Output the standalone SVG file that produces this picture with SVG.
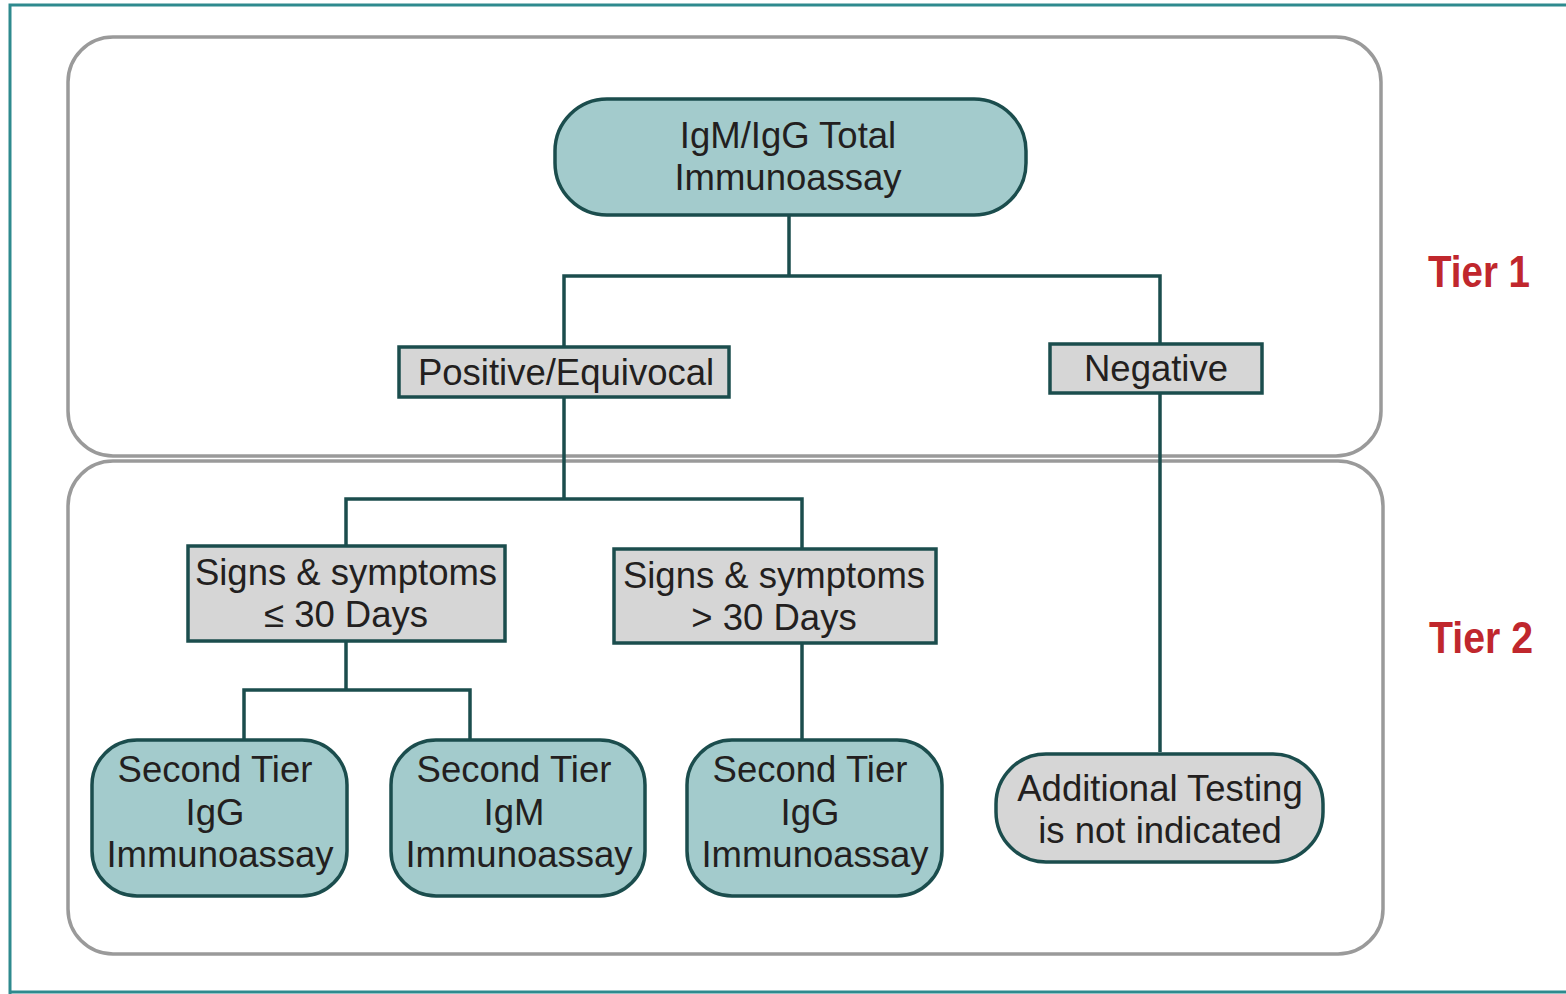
<svg xmlns="http://www.w3.org/2000/svg" width="1566" height="994" viewBox="0 0 1566 994">
<style>
.frame{fill:none;stroke:#2e8a8e;stroke-width:3}
.tier{fill:none;stroke:#9a9a9a;stroke-width:3.5}
.teal{fill:#a3cbcc;stroke:#1b4d4d;stroke-width:3.5}
.grey{fill:#d6d6d6;stroke:#1b4d4d;stroke-width:3.5}
.t{font-family:"Liberation Sans",Arial,sans-serif;font-size:36.5px;fill:#231f20;text-anchor:middle}
.tl{font-family:"Liberation Sans",Arial,sans-serif;font-size:44px;font-weight:bold;fill:#c0272d;text-anchor:middle}
.c{fill:none;stroke:#1b4d4d;stroke-width:3.5}
</style>
<rect width="1566" height="994" fill="#ffffff"/>
<path class="frame" d="M10,994 V5 H1566 M10,992 H1566"/>
<rect class="tier" x="68" y="37" width="1313" height="419" rx="45"/>
<rect class="tier" x="68" y="461" width="1315" height="493" rx="45"/>
<text class="tl" x="1479" y="287" textLength="102" lengthAdjust="spacingAndGlyphs">Tier 1</text>
<text class="tl" x="1481" y="653" textLength="104" lengthAdjust="spacingAndGlyphs">Tier 2</text>
<g id="connectors">
<path class="c" d="M789,215 V276 M564,347 V276 H1160 V344"/>
<path class="c" d="M564,397 V499 M346,546 V499 H802 V549"/>
<path class="c" d="M346,641 V690 M244,740 V690 H470 V740"/>
<path class="c" d="M802,643 V740"/>
<path class="c" d="M1160,393 V752"/>
</g>
<g id="n-total"><rect class="teal" x="555" y="99" width="471" height="116" rx="52"/>
<text class="t" x="788" y="148">IgM/IgG Total</text><text class="t" x="788" y="190">Immunoassay</text></g>
<g id="n-pos"><rect class="grey" x="399" y="347" width="330" height="50"/>
<text class="t" x="566" y="385">Positive/Equivocal</text></g>
<g id="n-neg"><rect class="grey" x="1050" y="344" width="212" height="49"/>
<text class="t" x="1156" y="381">Negative</text></g>
<g id="n-le30"><rect class="grey" x="188" y="546" width="317" height="95"/>
<text class="t" x="346" y="585">Signs &amp; symptoms</text><text class="t" x="346" y="627">≤ 30 Days</text></g>
<g id="n-gt30"><rect class="grey" x="614" y="549" width="322" height="94"/>
<text class="t" x="774" y="588">Signs &amp; symptoms</text><text class="t" x="774" y="630">&gt; 30 Days</text></g>
<g id="n-igg1"><rect class="teal" x="92" y="740" width="255" height="156" rx="45"/>
<text class="t" x="215" y="782">Second Tier</text><text class="t" x="215" y="825">IgG</text><text class="t" x="220" y="867">Immunoassay</text></g>
<g id="n-igm"><rect class="teal" x="391" y="740" width="254" height="156" rx="45"/>
<text class="t" x="514" y="782">Second Tier</text><text class="t" x="514" y="825">IgM</text><text class="t" x="519" y="867">Immunoassay</text></g>
<g id="n-igg2"><rect class="teal" x="687" y="740" width="255" height="156" rx="45"/>
<text class="t" x="810" y="782">Second Tier</text><text class="t" x="810" y="825">IgG</text><text class="t" x="815" y="867">Immunoassay</text></g>
<g id="n-add"><rect class="grey" x="996" y="754" width="327" height="108" rx="50"/>
<text class="t" x="1160" y="801">Additional Testing</text><text class="t" x="1160" y="843">is not indicated</text></g>
</svg>
